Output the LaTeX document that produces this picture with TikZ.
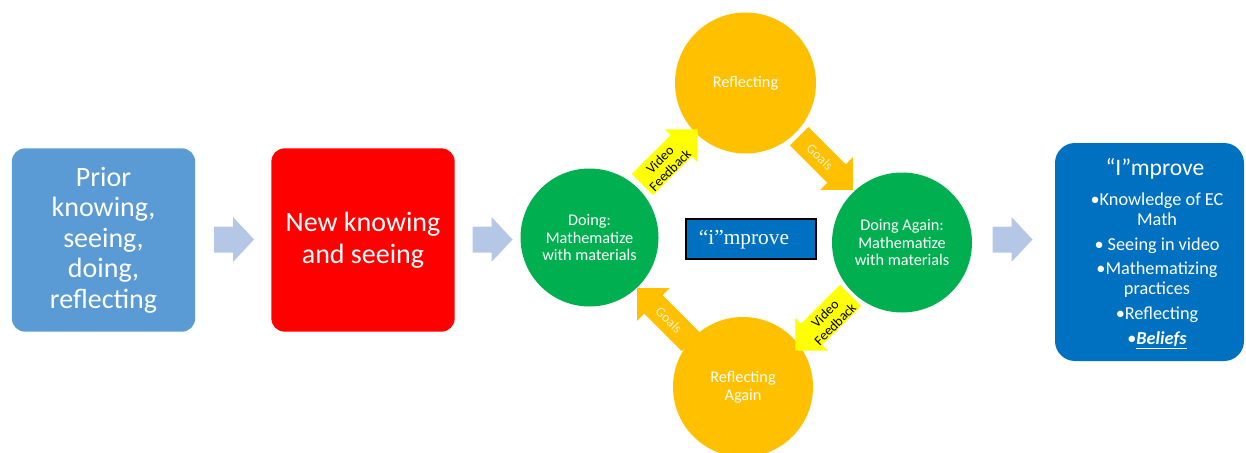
\documentclass[tikz,border=0pt]{standalone}
\usepackage{fontspec}
\setmainfont{Carlito}
\newfontfamily\timesfont{Liberation Serif}
\definecolor{lblue}{HTML}{5B9BD5}
\definecolor{arrblue}{HTML}{B4C7E7}
\definecolor{dgreen}{HTML}{00B050}
\definecolor{gold}{HTML}{FFC000}
\definecolor{yel}{HTML}{FFFF00}
\definecolor{mblue}{HTML}{0070C0}
\definecolor{goaltext}{HTML}{FFF2CC}
% center, angle, length, shaft width, head width, head length, colour (all in px)
\newcommand\blockarrow[7]{%
  \fill[#7, shift={#1}, rotate=#2] ({-#3/2},{-#4/2}) -- ({#3/2-#6},{-#4/2}) -- ({#3/2-#6},{-#5/2}) -- ({#3/2},0) -- ({#3/2-#6},{#5/2}) -- ({#3/2-#6},{#4/2}) -- ({-#3/2},{#4/2}) -- cycle;}
\tikzset{
  squarebox/.style={rounded corners=10pt, inner sep=0pt, text=white, align=center,
    minimum width=137.5pt, minimum height=137.5pt, font=\fontsize{21}{22.8}\selectfont},
  circnode/.style={circle, inner sep=0pt, text=white, align=center,
    font=\fontsize{12.2}{13.2}\selectfont},
  arrlabel/.style={inner sep=0pt, align=center, font=\fontsize{10.3}{10.8}\selectfont},
}
\begin{document}
\begin{tikzpicture}[x=0.75pt,y=-0.75pt]
\useasboundingbox (0,0) rectangle (1246,453);

% boxes
\node[squarebox, fill=lblue] (prior) at (103.5,240) {Prior\\knowing,\\seeing,\\doing,\\reflecting};
\node[squarebox, fill=red, font=\fontsize{21}{24}\selectfont] (new) at (363,240) {New knowing\\and seeing};

% light blue block arrows
\blockarrow{(234,239.5)}{0}{40}{26}{45}{21}{arrblue}
\blockarrow{(492.5,239.5)}{0}{40}{26}{45}{21}{arrblue}
\blockarrow{(1012.5,239.5)}{0}{40}{26}{45}{21}{arrblue}

% circles
\node[circnode, fill=dgreen, minimum size=103.5pt] (doing) at (589.5,237.5) {Doing:\\Mathematize\\with materials};
\node[circnode, fill=gold, minimum size=105.75pt] (refl) at (745.5,83) {Reflecting};
\node[circnode, fill=dgreen, minimum size=105pt] (again) at (902,242.5) {Doing Again:\\Mathematize\\with materials};
\node[circnode, fill=gold, minimum size=105pt] (reflagain) at (743,387) {Reflecting\\Again};

% diagonal block arrows
\blockarrow{(670,157)}{45}{78}{30}{46}{23}{yel}
\blockarrow{(826,163)}{-45}{76}{26}{46}{23}{gold}
\blockarrow{(823,323)}{-135}{78}{30}{46}{23}{yel}
\blockarrow{(664,315)}{135}{76}{26}{46}{23}{gold}

\node[arrlabel, rotate=45] (vf1) at (665,165) {Video\\Feedback};
\node[arrlabel, rotate=-45, text=goaltext] (g1) at (820,157) {Goals};
\node[arrlabel, rotate=45] (vf2) at (830,319) {Video\\Feedback};
\node[arrlabel, rotate=-45, text=goaltext] (g2) at (669,320) {Goals};

% centre box
\node[draw=black, line width=1.6pt, fill=mblue, minimum width=98pt, minimum height=30.5pt, inner sep=0pt] (ibox) at (751,239) {};
\node[text=white, inner sep=0pt, font=\timesfont\fontsize{16}{18}\selectfont] (itext) at (744,240) {“i”mprove};

% right box
\node[rounded corners=15pt, fill=mblue, minimum width=141.75pt, minimum height=163.5pt, inner sep=0pt] (improve) at (1149.5,252) {};
\node[text=white, inner sep=0pt, font=\fontsize{17.7}{20}\selectfont] (imptitle) at (1155,169) {“I”mprove};
\node[text=white, inner sep=0pt, align=center, font=\fontsize{13.7}{15}\selectfont] (implist) at (1157,271)
  {•Knowledge of EC\\Math\\[3.5pt]• Seeing in video\\[3.5pt]•Mathematizing\\practices\\[3.5pt]•Reflecting\\[3.5pt]•\underline{\textbf{\textit{Beliefs}}}};
\end{tikzpicture}
\end{document}
